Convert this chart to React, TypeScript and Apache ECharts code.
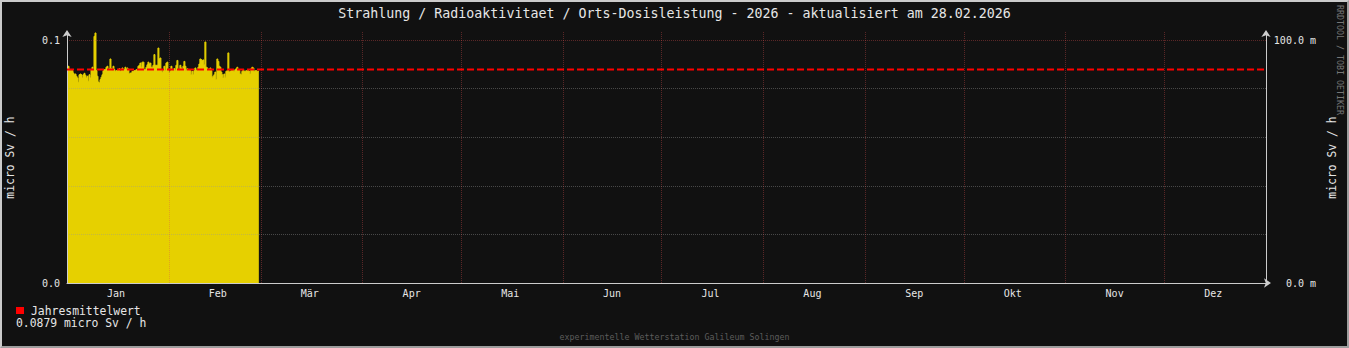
import React, { useEffect, useRef } from "react";
import * as echarts from "echarts";

const TITLE = "Strahlung / Radioaktivitaet / Orts-Dosisleistung - 2026 - aktualisiert am 28.02.2026";
const MONTHS = ["Jan", "Feb", "Mär", "Apr", "Mai", "Jun", "Jul", "Aug", "Sep", "Okt", "Nov", "Dez"];
const UNIT = "micro Sv / h";
const LEGEND_NAME = "Jahresmittelwert";
const YEAR_MEAN = [0.0879];
const FOOTER = "experimentelle Wetterstation Galileum Solingen";
const WATERMARK = "RRDTOOL / TOBI OETIKER";
const YEAR = 2026;
const SAMPLE_HOURS = 7.3;

// consolidated dose rate samples (micro Sv / h), 1 Jan .. 28 Feb
const DOSE_JAN = [
  0.0877, 0.0892, 0.0874, 0.0874, 0.0874, 0.0874, 0.0864, 0.0857, 0.086, 0.0851,
  0.0844, 0.0826, 0.0857, 0.086, 0.0857, 0.0844, 0.0857, 0.0863, 0.0855, 0.0844,
  0.0851, 0.083, 0.0857, 0.0844, 0.0878, 0.0888, 0.0878, 0.1015, 0.1029, 0.0874,
  0.0851, 0.0827, 0.0823, 0.0837, 0.0847, 0.0857, 0.0874, 0.0878, 0.0878, 0.0888,
  0.0892, 0.0878, 0.0882, 0.0922, 0.0882, 0.0874, 0.0892, 0.0878, 0.0871, 0.0874,
  0.0874, 0.0878, 0.0882, 0.0871, 0.0874, 0.0885, 0.0874, 0.0878, 0.0888, 0.0878,
  0.0885, 0.0878, 0.086,
];
const DOSE_FEB_A = [
  0.0864, 0.0864, 0.0871, 0.0871, 0.0874, 0.0874, 0.0878, 0.0878, 0.0892, 0.0896,
  0.0905, 0.0888, 0.0909, 0.0909, 0.0878, 0.0878, 0.0888, 0.0898, 0.0909, 0.0901,
  0.0905, 0.0888, 0.0888, 0.0896, 0.094, 0.0896, 0.0896, 0.0896, 0.0967, 0.0923,
  0.0926, 0.0878, 0.0867, 0.0878, 0.0892, 0.0874, 0.0905, 0.0909, 0.0874, 0.0864,
  0.0871, 0.0892, 0.0878, 0.0874, 0.0882, 0.0874, 0.0896, 0.0916, 0.0878, 0.0874,
  0.0896, 0.0885, 0.0878, 0.0892, 0.0912, 0.0892, 0.0874, 0.0882, 0.0878, 0.0878,
  0.0874, 0.0857, 0.0871, 0.0857,
];
const DOSE_FEB_B = [
  0.0874, 0.0885, 0.0874, 0.0878, 0.0888, 0.0901, 0.0922, 0.0919, 0.0915, 0.0918,
  0.0898, 0.0992, 0.0888, 0.0885, 0.0878, 0.0878, 0.0885, 0.0874, 0.0847, 0.0851,
  0.0857, 0.0868, 0.0837, 0.0922, 0.0912, 0.0892, 0.0888, 0.0868, 0.0857, 0.0844,
  0.086, 0.0847, 0.0871, 0.0874, 0.0947, 0.0868, 0.0871, 0.0874, 0.0874, 0.0878,
  0.0871, 0.0878, 0.0882, 0.0888, 0.0878, 0.0874, 0.086, 0.0857, 0.0871, 0.0878,
  0.0871, 0.0871, 0.0874, 0.0874, 0.0874, 0.0871, 0.086, 0.0882, 0.0888, 0.0885,
  0.0871, 0.0874, 0.0874, 0.0871, 0.0872,
];
const DOSE = [...DOSE_JAN, ...DOSE_FEB_A, ...DOSE_FEB_B];

const FONT = "'DejaVu Sans Mono', monospace";
const TEXT = "#e6e6e6";
const BG = "#111111";
const YELLOW = "#e6d000";
const MAJOR = "rgba(222,79,79,0.36)";
const MINOR = "rgba(150,150,150,0.42)";
const AXIS = "#cccccc";

export default function App() {
  const ref = useRef<HTMLDivElement>(null);

  useEffect(() => {
    if (!ref.current) return;
    const chart = echarts.init(ref.current, undefined, { renderer: "svg" });
    const start = new Date(YEAR, 0, 1).getTime();
    const end = new Date(YEAR + 1, 0, 1).getTime();
    const step = SAMPLE_HOURS * 3600 * 1000;
    const doseData: [number, number][] = DOSE.map((v, i) => [start + i * step, v]);
    doseData.push([start + DOSE.length * step, DOSE[DOSE.length - 1]]);
    const mean = YEAR_MEAN[0];
    const yMax = 0.1033;
    const day = 86400000;

    const yCommon = {
      type: "value" as const,
      min: 0,
      max: yMax,
      interval: 0.02,
      z: 3,
      axisTick: { show: false },
      nameLocation: "middle" as const,
      nameRotate: 90,
      nameTextStyle: { color: TEXT, fontFamily: FONT, fontSize: 11.4 },
    };

    chart.setOption({
      animation: false,
      backgroundColor: BG,
      title: {
        text: TITLE,
        left: "center",
        top: 7,
        padding: 0,
        textStyle: { color: TEXT, fontFamily: FONT, fontSize: 13.3, fontWeight: "normal" },
      },
      legend: {
        data: [LEGEND_NAME],
        left: 16,
        top: 305,
        padding: 0,
        icon: "rect",
        itemWidth: 8,
        itemHeight: 7,
        selectedMode: false,
        textStyle: { color: TEXT, fontFamily: FONT, fontSize: 11.4, padding: [0, 0, 0, 2] },
      },
      grid: { left: 67, right: 1349 - 1266, top: 32, bottom: 348 - 283, outerBoundsMode: "none" },
      xAxis: {
        type: "time",
        min: start,
        max: end,
        splitNumber: 12,
        minInterval: 28 * day,
        maxInterval: 31 * day,
        z: 3,
        axisLine: {
          lineStyle: { color: AXIS, width: 1 },
          symbol: ["none", "arrow"],
          symbolSize: [7, 7],
          symbolOffset: [0, 5],
        },
        axisTick: { show: false },
        minorTick: { show: false },
        axisLabel: {
          color: TEXT,
          fontFamily: FONT,
          fontSize: 10,
          margin: 5,
          align: "center",
          padding: [0, 0, 0, 98],
          showMinLabel: true,
          showMaxLabel: false,
          hideOverlap: false,
          formatter: (v: number) => MONTHS[new Date(v).getMonth()],
        },
        splitLine: { show: true, lineStyle: { color: MAJOR, width: 1, type: [1, 1] } },
      },
      yAxis: [
        {
          ...yCommon,
          position: "left",
          name: UNIT,
          nameGap: 52,
          axisLine: {
            show: true,
            lineStyle: { color: AXIS, width: 1 },
            symbol: ["none", "arrow"],
            symbolSize: [7, 7],
            symbolOffset: [0, 2],
          },
          axisLabel: {
            color: TEXT,
            fontFamily: FONT,
            fontSize: 10,
            margin: 7,
            formatter: (v: number) => (Math.abs(v) < 1e-9 ? "0.0" : Math.abs(v - 0.1) < 1e-9 ? "0.1" : ""),
          },
          splitLine: {
            show: true,
            lineStyle: {
              color: ["rgba(0,0,0,0)", MINOR, MINOR, MINOR, MINOR, MAJOR, "rgba(0,0,0,0)"],
              width: 1,
              type: [1, 1],
            },
          },
        },
        {
          ...yCommon,
          position: "right",
          name: UNIT,
          nameGap: 58,
          axisLine: {
            show: true,
            lineStyle: { color: AXIS, width: 1 },
            symbol: ["none", "arrow"],
            symbolSize: [7, 7],
            symbolOffset: [0, 2],
          },
          axisLabel: {
            color: TEXT,
            fontFamily: FONT,
            fontSize: 10,
            margin: 50,
            align: "right",
            formatter: (v: number) => (Math.abs(v) < 1e-9 ? "0.0 m" : Math.abs(v - 0.1) < 1e-9 ? "100.0 m" : ""),
          },
          splitLine: { show: false },
        },
      ],
      series: [
        {
          type: "line",
          name: "Dosisleistung",
          data: doseData,
          step: "end",
          showSymbol: false,
          symbol: "none",
          z: 1,
          lineStyle: { color: YELLOW, width: 1 },
          itemStyle: { color: YELLOW },
          areaStyle: { color: YELLOW, opacity: 1 },
          silent: true,
        },
        {
          type: "line",
          name: LEGEND_NAME,
          data: [
            [start, mean],
            [end, mean],
          ],
          showSymbol: false,
          symbol: "none",
          z: 5,
          itemStyle: { color: "#ff0000" },
          lineStyle: { color: "#ff0000", width: 2, type: [7, 3] },
          silent: true,
        },
      ],
      graphic: [
        {
          type: "text",
          left: 16,
          top: 317,
          style: {
            text: mean.toFixed(4) + " " + UNIT,
            fill: TEXT,
            font: `11.4px ${FONT}`,
          },
        },
        {
          type: "text",
          left: "center",
          top: 333,
          style: { text: FOOTER, fill: "#5c5c5c", font: `8.3px ${FONT}` },
        },
        {
          type: "text",
          x: 1340,
          y: 5,
          rotation: -Math.PI / 2,
          style: {
            text: WATERMARK,
            fill: "#767676",
            font: `8.3px ${FONT}`,
            align: "left",
            verticalAlign: "middle",
          },
        },
      ],
    });

    return () => chart.dispose();
  }, []);

  return (
    <div style={{ position: "fixed", left: 0, top: 0, width: 1349, height: 348, background: BG }}>
      <div ref={ref} style={{ width: 1349, height: 348 }} />
      <div
        style={{
          position: "absolute",
          left: 0,
          top: 0,
          width: 1349,
          height: 348,
          boxSizing: "border-box",
          borderTop: "2px solid #cbcbcb",
          borderLeft: "2px solid #cbcbcb",
          borderRight: "2px solid #9e9e9e",
          borderBottom: "2px solid #9e9e9e",
          pointerEvents: "none",
        }}
      />
    </div>
  );
}
